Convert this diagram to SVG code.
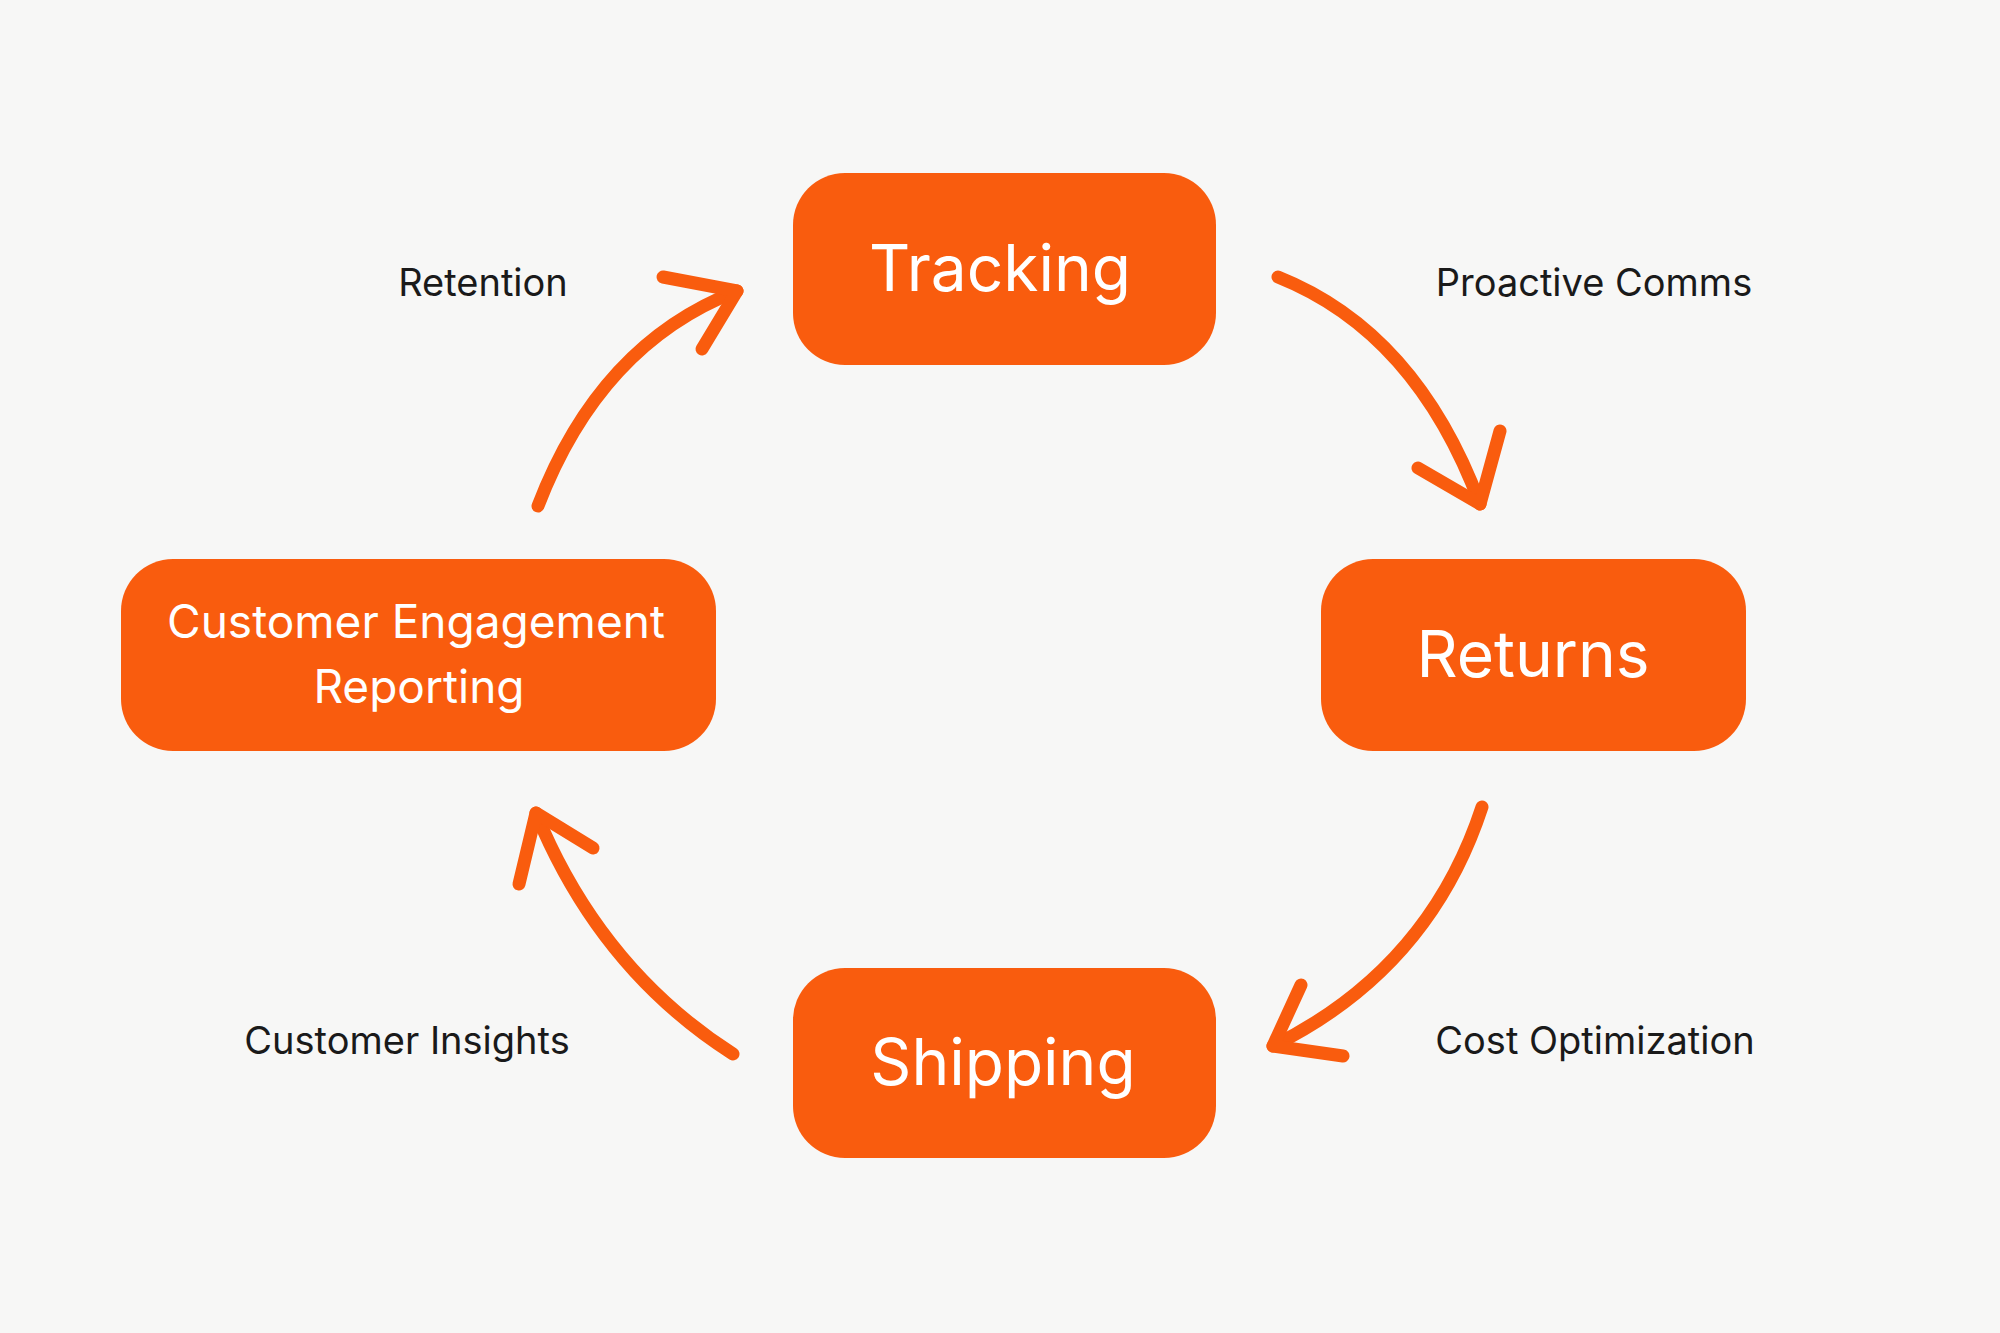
<svg xmlns="http://www.w3.org/2000/svg" width="2000" height="1333" viewBox="0 0 2000 1333">
<style>
.box{fill:#F95C0E}
.t{fill:#fff;font-family:"Inter","Liberation Sans",sans-serif;text-anchor:middle}
.lbl{fill:#1a1a1a;font-family:"Inter","Liberation Sans",sans-serif;font-size:38px;text-anchor:middle}
.c{fill:none;stroke:#F95C0E;stroke-width:13;stroke-linecap:round;stroke-linejoin:round}
</style>
<rect width="2000" height="1333" fill="#F7F7F6"/>
<g id="tracking"><rect class="box" x="793" y="173" width="423" height="192" rx="52"/><text class="t" x="1000" y="291" font-size="64">Tracking</text></g>
<g id="returns"><rect class="box" x="1321" y="559" width="425" height="192" rx="52"/><text class="t" x="1533" y="677" font-size="64">Returns</text></g>
<g id="shipping"><rect class="box" x="793" y="968" width="423" height="190" rx="52"/><text class="t" x="1003" y="1085" font-size="64">Shipping</text></g>
<g id="engagement"><rect class="box" x="121" y="559" width="595" height="192" rx="52"/><text class="t" x="416" y="638" font-size="46">Customer Engagement</text><text class="t" x="419" y="703" font-size="46">Reporting</text></g>
<g id="connectors">
<path class="c" d="M538,506 Q600,344 737,291"/><polyline class="c" points="663,277 737,291 702,349"/>
<path class="c" d="M1278,277 Q1416,332 1480,504"/><polyline class="c" points="1418,468 1480,504 1500,431"/>
<path class="c" d="M1482,807 Q1429,969 1273,1046"/><polyline class="c" points="1301,985 1273,1046 1343,1056"/>
<path class="c" d="M733,1054 Q600,969 536,813"/><polyline class="c" points="519,884 536,813 593,848"/>
</g>
<g id="labels">
<text class="lbl" x="483" y="296">Retention</text>
<text class="lbl" x="1594" y="296">Proactive Comms</text>
<text class="lbl" x="407" y="1054">Customer Insights</text>
<text class="lbl" x="1595" y="1054">Cost Optimization</text>
</g>
</svg>
